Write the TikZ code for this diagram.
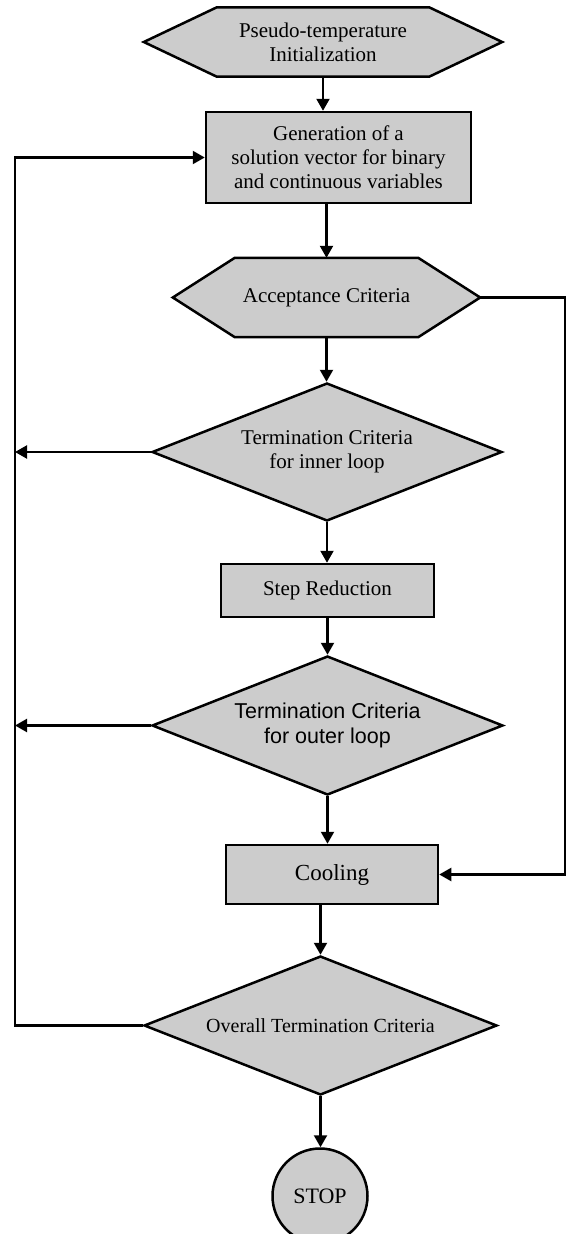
\documentclass[tikz,border=0pt]{standalone}
\usepackage{fontspec}
\setmainfont{Liberation Serif}
\newfontfamily\arialfont{Liberation Sans}
\usetikzlibrary{shapes.geometric,backgrounds,calc,arrows.meta}
\colorlet{colorFill}{black!20}
\tikzset{
   every path/.style={>={Triangle[length=12pt,width=13pt]}},
   flow/.style={->,line width=2.2pt},
   proc/.style={rectangle,draw,line width=2.5pt,fill=colorFill},
   dec/.style={diamond,aspect=2.5,draw,line width=2.5pt,fill=colorFill,inner sep=0pt},
   hexa/.style={rectangle,inner sep=0pt},
   hexline/.style={draw,line width=2.5pt,fill=colorFill},
   term/.style={circle,draw,line width=2.5pt,fill=colorFill},
   txt/.style={align=center,font=\fontsize{21}{24}\selectfont},
}
\newcommand{\hexpath}[2]{\draw[hexline] (#1.west) -- ($(#1.north west)+(#2,0)$) -- ($(#1.north east)+(-#2,0)$) -- (#1.east) -- ($(#1.south east)+(-#2,0)$) -- ($(#1.south west)+(#2,0)$) -- cycle;}
\begin{document}
\begin{tikzpicture}[x=1pt,y=-1pt]
      \useasboundingbox (0,0) rectangle (566,1234);
      \node[hexa,txt,minimum width=358pt,minimum height=69pt] (init) at (323,42) {Pseudo-temperature\\Initialization};
      \node[proc,txt,minimum width=265pt,minimum height=91pt] (gen) at (338.5,157.5) {Generation of a\\solution vector for binary\\and continuous variables};
      \node[hexa,txt,minimum width=307pt,minimum height=79pt] (accept) at (326.5,297.5) {Acceptance Criteria};
      \node[dec,txt,minimum width=350pt,minimum height=138pt] (inner) at (327,452) {Termination Criteria\\for inner loop};
      \node[proc,txt,minimum width=213pt,minimum height=53pt] (step) at (327.5,590.5) {Step Reduction};
      \node[dec,txt,font=\arialfont\fontsize{21.5}{25}\selectfont,minimum width=351pt,minimum height=139pt] (outer) at (327.5,725.5) {Termination Criteria\\for outer loop};
      \node[proc,txt,font=\fontsize{23}{27}\selectfont,minimum width=212pt,minimum height=59pt] (cool) at (332,874.5) {Cooling};
      \node[dec,txt,font=\fontsize{20}{24}\selectfont,minimum width=353pt,minimum height=139pt] (overall) at (320.5,1025.5) {Overall Termination Criteria};
      \node[term,txt,font=\fontsize{22}{24}\selectfont,minimum size=95pt] (stop) at (320,1196) {STOP};
      \coordinate (lbus) at (15,0);
      \coordinate (rbus) at (565,0);
      \begin{scope}[on background layer]
        \hexpath{init}{73}
        \hexpath{accept}{62}
      \end{scope}
      \draw[flow] (init.south) -- (init.south |- gen.north);
      \draw[flow] (accept.north |- gen.south) -- (accept.north);
      \draw[flow] (accept.south) -- (accept.south |- inner.north);
      \draw[flow] (inner.south) -- (inner.south |- step.north);
      \draw[flow] (outer.north |- step.south) -- (outer.north);
      \draw[flow] (outer.south) -- (outer.south |- cool.north);
      \draw[flow] (overall.north |- cool.south) -- (overall.north);
      \draw[flow] (overall.south) -- (overall.south |- stop.north);
      \draw[flow] (accept.east) -- (accept.east -| rbus) |- (cool.east);
      \draw[flow] (inner.west) -- (inner.west -| lbus);
      \draw[flow] (outer.west) -- (outer.west -| lbus);
      \draw[flow] (overall.west) -| (lbus |- gen.west) -- (gen.west);
    \end{tikzpicture}
\end{document}
